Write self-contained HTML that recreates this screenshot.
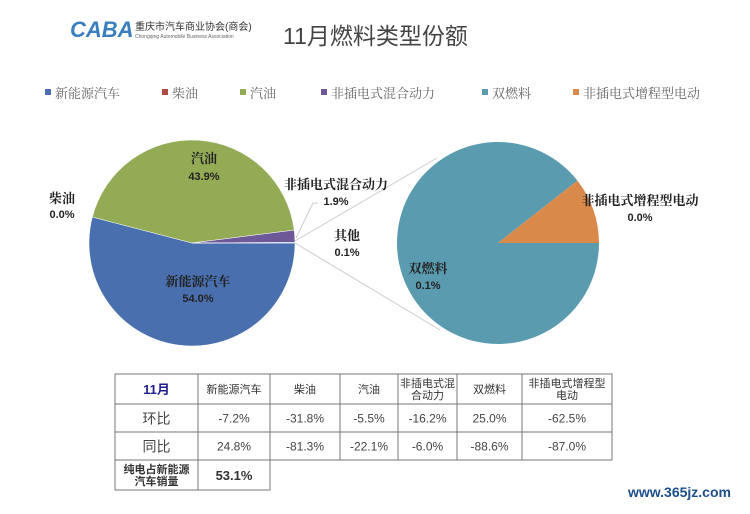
<!DOCTYPE html>
<html><head><meta charset="utf-8"><style>
body{margin:0;background:#fff;width:750px;height:509px;overflow:hidden;font-family:"Liberation Sans","Noto Sans CJK SC",sans-serif;}
svg text{font-family:"Liberation Sans","Noto Sans CJK SC",sans-serif;}
svg text.serif{font-family:"Liberation Serif","Noto Serif CJK SC",serif;}
</style></head><body>
<svg width="750" height="509" viewBox="0 0 750 509">
<g>
<text x="70" y="37" font-size="22" font-weight="bold" fill="#3a7fc0" font-style="italic">CABA</text>
<text x="135" y="30" font-size="10" fill="#333">重庆市汽车商业协会(商会)</text>
<text x="135" y="38" font-size="5" fill="#666">Chongqing Automobile Business Association</text>
</g>
<text x="283" y="44" font-size="23" fill="#444">11月燃料类型份额</text>
<g id="legend"></g>
<g id="pies"></g>
<g id="table"></g>
<text x="628" y="497" font-size="14" font-weight="bold" fill="#1d4f8a">www.365jz.com</text>
</svg>
<script>
const NS="http://www.w3.org/2000/svg";
const categories=["新能源汽车","柴油","汽油","非插电式混合动力","其他"];
const mainValues=[54.0,0.0,43.9,1.9,0.1];
const colors=["#4a6faf","#b04a45","#93ab55","#6e5898","#5b9bb0"];
const subCategories=["双燃料","非插电式增程型电动"];
const subValues=[89.4,10.6];
const subLabels=["0.1%","0.0%"];
const subColors=["#5b9bb0","#d98a4a"];
const legendNames=["新能源汽车","柴油","汽油","非插电式混合动力","双燃料","非插电式增程型电动"];
const legendColors=["#4a6faf","#b04a45","#93ab55","#6e5898","#5b9bb0","#d98a4a"];
const tableHeader=["11月","新能源汽车","柴油","汽油","非插电式混\n合动力","双燃料","非插电式增程型\n电动"];
const momRow=["环比","-7.2%","-31.8%","-5.5%","-16.2%","25.0%","-62.5%"];
const yoyRow=["同比","24.8%","-81.3%","-22.1%","-6.0%","-88.6%","-87.0%"];
const bevShare="53.1%";

function el(tag,attrs,parent){const e=document.createElementNS(NS,tag);for(const k in attrs)e.setAttribute(k,attrs[k]);parent.appendChild(e);return e;}
function txt(parent,x,y,s,size,fill,weight,anchor,cls){const t=el('text',{x:x,y:y,'font-size':size,fill:fill,'font-weight':weight||'normal','text-anchor':anchor||'start'},parent);if(cls)t.setAttribute('class',cls);t.textContent=s;return t;}

const lg=document.getElementById('legend');
const lx=[45,162,240,321,482,573];
legendNames.forEach((n,i)=>{
  const g=el('g',{},lg);
  
  
  el('rect',{x:lx[i],y:89,width:6,height:6,fill:legendColors[i]},g);
  txt(g,lx[i]+10,98,n,13,'#666','normal','start','serif');
});

const pies=document.getElementById('pies');
function slicePath(cx,cy,r,a0,a1){
  const x0=cx+r*Math.cos(a0),y0=cy+r*Math.sin(a0),x1=cx+r*Math.cos(a1),y1=cy+r*Math.sin(a1);
  const large=(a1-a0)>Math.PI?1:0;
  return `M${cx},${cy}L${x0},${y0}A${r},${r} 0 ${large} 1 ${x1},${y1}Z`;
}
const cx=192,cy=243,r=103;
const total=mainValues.reduce((a,b)=>a+b,0);
let a=0;
mainValues.forEach((v,i)=>{
  const sw=v/total*2*Math.PI;
  if(sw>0){
    const p=el('path',{d:slicePath(cx,cy,r,a,a+sw),fill:colors[i],stroke:'#fff','stroke-width':0.5},pies);
    
    
  }
  a+=sw;
});
const sx=498,sy=243,sr=101;
const subTotal=subValues.reduce((a,b)=>a+b,0);
let b=0;
subValues.forEach((v,i)=>{
  const sw=v/subTotal*2*Math.PI;
  const p=el('path',{d:slicePath(sx,sy,sr,b,b+sw),fill:subColors[i]},pies);
  
  
  b+=sw;
});
el('line',{x1:cx+r,y1:cy-2,x2:437,y2:158,stroke:'#ccc','stroke-width':1},pies);
el('line',{x1:cx+r,y1:cy,x2:440,y2:330,stroke:'#ccc','stroke-width':1},pies);
el('polyline',{points:'296,238 313,203 318,203',fill:'none',stroke:'#ccc','stroke-width':1},pies);
const L=[["汽油","43.9%",204,163,180],["柴油","0.0%",62,203,218],["新能源汽车","54.0%",198,286,302],["非插电式混合动力","1.9%",336,189,205],["其他","0.1%",347,240,256]];
L.forEach((l,i)=>{
  const g=el('g',{},pies);
  
  
  txt(g,l[2],l[3],l[0],13,'#222','bold','middle','serif');
  txt(g,l[2],l[4],l[1],11,'#222','bold','middle');
});
[[428,273,289,0],[640,205,221,1]].forEach(l=>{
  const g=el('g',{},pies);
  
  
  txt(g,l[0],l[1],subCategories[l[3]],13,'#222','bold','middle','serif');
  txt(g,l[0],l[2],subLabels[l[3]],11,'#222','bold','middle');
});

const tb=document.getElementById('table');
const cols=[115,198,270,340,398,457,522,612];
const rows=[374,404,432,460,490];
function cell(x0,x1,y0,y1,s,size,color,weight,name){
  el('rect',{x:x0,y:y0,width:x1-x0,height:y1-y0,fill:'#fff',stroke:'#777','stroke-width':1},tb);
  const lines=s.split('\n');
  const mid=(y0+y1)/2;
  lines.forEach((ln,k)=>{
    const t=txt(tb,(x0+x1)/2,mid+size*0.38+(k-(lines.length-1)/2)*(size+1),ln,size,color,weight,'middle');
    
    
  });
}
tableHeader.forEach((h,i)=>cell(cols[i],cols[i+1],rows[0],rows[1],h,i===0?13:11,i===0?'#1f1f8f':'#333',i===0?'bold':'normal','header-cell'));
momRow.forEach((h,i)=>cell(cols[i],cols[i+1],rows[1],rows[2],h,i===0?14:12,'#444','normal','mom-cell'));
yoyRow.forEach((h,i)=>cell(cols[i],cols[i+1],rows[2],rows[3],h,i===0?14:12,'#444','normal','yoy-cell'));
cell(cols[0],cols[1],rows[3],rows[4],"纯电占新能源\n汽车销量",11,'#333','bold','bev-label');
cell(cols[1],cols[2],rows[3],rows[4],bevShare,13,'#333','bold','bev-value');
</script>
</body></html>
